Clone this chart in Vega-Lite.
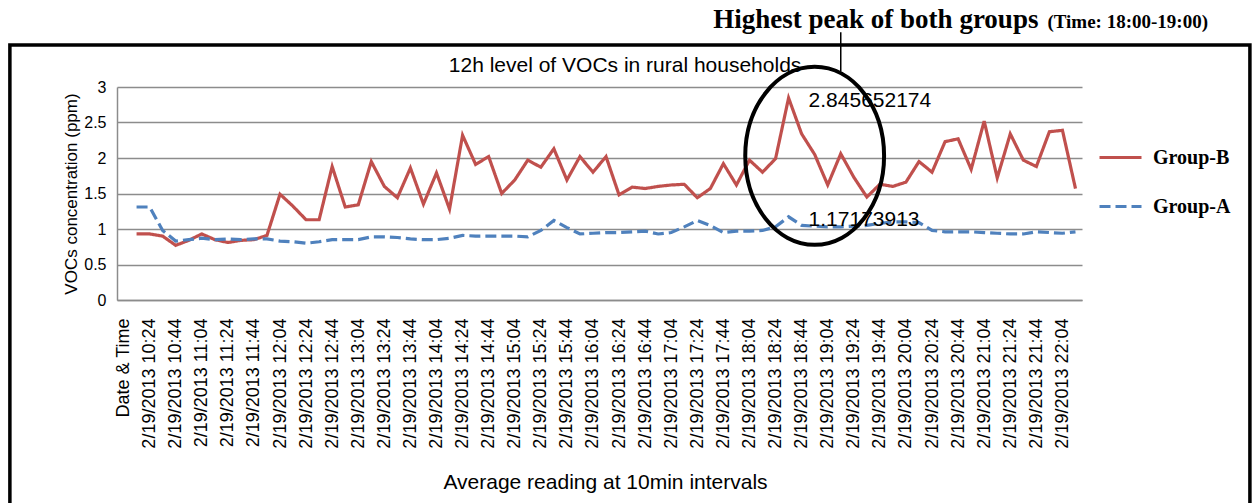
{
  "$schema": "https://vega.github.io/schema/vega-lite/v6.json",
  "width": 965,
  "height": 213,
  "autosize": {"type": "none"},
  "padding": {"left": 117, "top": 87, "right": 176, "bottom": 203},
  "background": "white",
  "config": {
    "view": {"stroke": null},
    "font": "Liberation Sans"
  },
  "resolve": {"scale": {"x": "independent", "y": "independent"}, "axis": {"x": "independent", "y": "independent"}},
  "layer": [
    {
      "data": {"values": [{"fx0": -0.111, "fx1": 1.174, "fy0": -1.3, "fy1": 1.197}]},
      "mark": {"type": "rect", "filled": false, "stroke": "black", "strokeWidth": 3.5, "clip": false},
      "encoding": {
        "x": {"field": "fx0", "type": "quantitative", "scale": {"domain": [0, 1], "nice": false, "zero": false}, "axis": null},
        "x2": {"field": "fx1"},
        "y": {"field": "fy0", "type": "quantitative", "scale": {"domain": [0, 1], "nice": false, "zero": false}, "axis": null},
        "y2": {"field": "fy1"}
      }
    },
    {
      "encoding": {
        "x": {
          "field": "t", "type": "ordinal",
          "scale": {"type": "point", "padding": 0.5, "domain": ["Date & Time",
            "2/19/2013 10:14","2/19/2013 10:24","2/19/2013 10:34","2/19/2013 10:44","2/19/2013 10:54",
            "2/19/2013 11:04","2/19/2013 11:14","2/19/2013 11:24","2/19/2013 11:34","2/19/2013 11:44","2/19/2013 11:54",
            "2/19/2013 12:04","2/19/2013 12:14","2/19/2013 12:24","2/19/2013 12:34","2/19/2013 12:44","2/19/2013 12:54",
            "2/19/2013 13:04","2/19/2013 13:14","2/19/2013 13:24","2/19/2013 13:34","2/19/2013 13:44","2/19/2013 13:54",
            "2/19/2013 14:04","2/19/2013 14:14","2/19/2013 14:24","2/19/2013 14:34","2/19/2013 14:44","2/19/2013 14:54",
            "2/19/2013 15:04","2/19/2013 15:14","2/19/2013 15:24","2/19/2013 15:34","2/19/2013 15:44","2/19/2013 15:54",
            "2/19/2013 16:04","2/19/2013 16:14","2/19/2013 16:24","2/19/2013 16:34","2/19/2013 16:44","2/19/2013 16:54",
            "2/19/2013 17:04","2/19/2013 17:14","2/19/2013 17:24","2/19/2013 17:34","2/19/2013 17:44","2/19/2013 17:54",
            "2/19/2013 18:04","2/19/2013 18:14","2/19/2013 18:24","2/19/2013 18:34","2/19/2013 18:44","2/19/2013 18:54",
            "2/19/2013 19:04","2/19/2013 19:14","2/19/2013 19:24","2/19/2013 19:34","2/19/2013 19:44","2/19/2013 19:54",
            "2/19/2013 20:04","2/19/2013 20:14","2/19/2013 20:24","2/19/2013 20:34","2/19/2013 20:44","2/19/2013 20:54",
            "2/19/2013 21:04","2/19/2013 21:14","2/19/2013 21:24","2/19/2013 21:34","2/19/2013 21:44","2/19/2013 21:54",
            "2/19/2013 22:04","2/19/2013 22:14"]},
          "axis": {
            "title": "Average reading at 10min intervals",
            "titleFont": "Liberation Sans", "titleFontSize": 21, "titleFontWeight": "normal", "titleColor": "black",
            "titlePadding": 23, "titleX": 488,
            "labelAngle": -90, "labelAlign": "right", "labelBaseline": "middle",
            "labelFont": "Liberation Sans", "labelFontSize": 18, "labelColor": "black", "labelPadding": 18,
            "labelOverlap": false, "labelFlush": false,
            "ticks": false, "grid": false,
            "domainColor": "#8c8c8c", "domainWidth": 1.5,
            "values": ["Date & Time","2/19/2013 10:24","2/19/2013 10:44","2/19/2013 11:04","2/19/2013 11:24","2/19/2013 11:44",
              "2/19/2013 12:04","2/19/2013 12:24","2/19/2013 12:44","2/19/2013 13:04","2/19/2013 13:24","2/19/2013 13:44",
              "2/19/2013 14:04","2/19/2013 14:24","2/19/2013 14:44","2/19/2013 15:04","2/19/2013 15:24","2/19/2013 15:44",
              "2/19/2013 16:04","2/19/2013 16:24","2/19/2013 16:44","2/19/2013 17:04","2/19/2013 17:24","2/19/2013 17:44",
              "2/19/2013 18:04","2/19/2013 18:24","2/19/2013 18:44","2/19/2013 19:04","2/19/2013 19:24","2/19/2013 19:44",
              "2/19/2013 20:04","2/19/2013 20:24","2/19/2013 20:44","2/19/2013 21:04","2/19/2013 21:24","2/19/2013 21:44",
              "2/19/2013 22:04"]
          }
        },
        "y": {
          "field": "value", "type": "quantitative",
          "scale": {"domain": [0, 3], "nice": false, "zero": true},
          "axis": {
            "title": "VOCs concentration  (ppm)",
            "titleFont": "Liberation Sans", "titleFontSize": 17, "titleFontWeight": "normal", "titleColor": "black",
            "titlePadding": 3,
            "values": [0, 0.5, 1, 1.5, 2, 2.5, 3],
            "tickCount": 7,
            "labelOverlap": false,
            "format": "~g",
            "labelFont": "Liberation Sans", "labelFontSize": 16, "labelColor": "black", "labelPadding": 11,
            "ticks": false,
            "grid": true, "gridColor": "#8c8c8c", "gridWidth": 1.5,
            "domainColor": "#8c8c8c", "domainWidth": 1.5
          }
        }
      },
      "layer": [
        {
          "data": {"name": "vocs", "values": [
            {"t": "2/19/2013 10:14", "Group-B": 0.93, "Group-A": 1.31},
            {"t": "2/19/2013 10:24", "Group-B": 0.93, "Group-A": 1.31},
            {"t": "2/19/2013 10:34", "Group-B": 0.9, "Group-A": 0.98},
            {"t": "2/19/2013 10:44", "Group-B": 0.77, "Group-A": 0.83},
            {"t": "2/19/2013 10:54", "Group-B": 0.84, "Group-A": 0.85},
            {"t": "2/19/2013 11:04", "Group-B": 0.93, "Group-A": 0.87},
            {"t": "2/19/2013 11:14", "Group-B": 0.85, "Group-A": 0.85},
            {"t": "2/19/2013 11:24", "Group-B": 0.81, "Group-A": 0.86},
            {"t": "2/19/2013 11:34", "Group-B": 0.84, "Group-A": 0.85},
            {"t": "2/19/2013 11:44", "Group-B": 0.85, "Group-A": 0.86},
            {"t": "2/19/2013 11:54", "Group-B": 0.91, "Group-A": 0.86},
            {"t": "2/19/2013 12:04", "Group-B": 1.49, "Group-A": 0.83},
            {"t": "2/19/2013 12:14", "Group-B": 1.32, "Group-A": 0.82},
            {"t": "2/19/2013 12:24", "Group-B": 1.13, "Group-A": 0.8},
            {"t": "2/19/2013 12:34", "Group-B": 1.13, "Group-A": 0.82},
            {"t": "2/19/2013 12:44", "Group-B": 1.88, "Group-A": 0.85},
            {"t": "2/19/2013 12:54", "Group-B": 1.31, "Group-A": 0.85},
            {"t": "2/19/2013 13:04", "Group-B": 1.34, "Group-A": 0.85},
            {"t": "2/19/2013 13:14", "Group-B": 1.95, "Group-A": 0.89},
            {"t": "2/19/2013 13:24", "Group-B": 1.6, "Group-A": 0.89},
            {"t": "2/19/2013 13:34", "Group-B": 1.44, "Group-A": 0.88},
            {"t": "2/19/2013 13:44", "Group-B": 1.86, "Group-A": 0.86},
            {"t": "2/19/2013 13:54", "Group-B": 1.35, "Group-A": 0.85},
            {"t": "2/19/2013 14:04", "Group-B": 1.79, "Group-A": 0.85},
            {"t": "2/19/2013 14:14", "Group-B": 1.28, "Group-A": 0.87},
            {"t": "2/19/2013 14:24", "Group-B": 2.32, "Group-A": 0.91},
            {"t": "2/19/2013 14:34", "Group-B": 1.91, "Group-A": 0.9},
            {"t": "2/19/2013 14:44", "Group-B": 2.02, "Group-A": 0.9},
            {"t": "2/19/2013 14:54", "Group-B": 1.5, "Group-A": 0.9},
            {"t": "2/19/2013 15:04", "Group-B": 1.69, "Group-A": 0.9},
            {"t": "2/19/2013 15:14", "Group-B": 1.97, "Group-A": 0.89},
            {"t": "2/19/2013 15:24", "Group-B": 1.87, "Group-A": 0.98},
            {"t": "2/19/2013 15:34", "Group-B": 2.13, "Group-A": 1.12},
            {"t": "2/19/2013 15:44", "Group-B": 1.69, "Group-A": 1.02},
            {"t": "2/19/2013 15:54", "Group-B": 2.02, "Group-A": 0.93},
            {"t": "2/19/2013 16:04", "Group-B": 1.8, "Group-A": 0.94},
            {"t": "2/19/2013 16:14", "Group-B": 2.02, "Group-A": 0.95},
            {"t": "2/19/2013 16:24", "Group-B": 1.48, "Group-A": 0.95},
            {"t": "2/19/2013 16:34", "Group-B": 1.59, "Group-A": 0.96},
            {"t": "2/19/2013 16:44", "Group-B": 1.57, "Group-A": 0.97},
            {"t": "2/19/2013 16:54", "Group-B": 1.6, "Group-A": 0.93},
            {"t": "2/19/2013 17:04", "Group-B": 1.62, "Group-A": 0.95},
            {"t": "2/19/2013 17:14", "Group-B": 1.63, "Group-A": 1.03},
            {"t": "2/19/2013 17:24", "Group-B": 1.44, "Group-A": 1.12},
            {"t": "2/19/2013 17:34", "Group-B": 1.57, "Group-A": 1.05},
            {"t": "2/19/2013 17:44", "Group-B": 1.92, "Group-A": 0.95},
            {"t": "2/19/2013 17:54", "Group-B": 1.62, "Group-A": 0.97},
            {"t": "2/19/2013 18:04", "Group-B": 1.97, "Group-A": 0.97},
            {"t": "2/19/2013 18:14", "Group-B": 1.8, "Group-A": 0.98},
            {"t": "2/19/2013 18:24", "Group-B": 1.99, "Group-A": 1.03},
            {"t": "2/19/2013 18:34", "Group-B": 2.845652174, "Group-A": 1.17173913},
            {"t": "2/19/2013 18:44", "Group-B": 2.34, "Group-A": 1.05},
            {"t": "2/19/2013 18:54", "Group-B": 2.05, "Group-A": 1.04},
            {"t": "2/19/2013 19:04", "Group-B": 1.62, "Group-A": 1.03},
            {"t": "2/19/2013 19:14", "Group-B": 2.06, "Group-A": 1.03},
            {"t": "2/19/2013 19:24", "Group-B": 1.73, "Group-A": 1.04},
            {"t": "2/19/2013 19:34", "Group-B": 1.45, "Group-A": 1.05},
            {"t": "2/19/2013 19:44", "Group-B": 1.63, "Group-A": 1.08},
            {"t": "2/19/2013 19:54", "Group-B": 1.6, "Group-A": 1.1},
            {"t": "2/19/2013 20:04", "Group-B": 1.66, "Group-A": 1.1},
            {"t": "2/19/2013 20:14", "Group-B": 1.95, "Group-A": 1.09},
            {"t": "2/19/2013 20:24", "Group-B": 1.8, "Group-A": 0.98},
            {"t": "2/19/2013 20:34", "Group-B": 2.23, "Group-A": 0.96},
            {"t": "2/19/2013 20:44", "Group-B": 2.27, "Group-A": 0.96},
            {"t": "2/19/2013 20:54", "Group-B": 1.84, "Group-A": 0.96},
            {"t": "2/19/2013 21:04", "Group-B": 2.52, "Group-A": 0.95},
            {"t": "2/19/2013 21:14", "Group-B": 1.72, "Group-A": 0.94},
            {"t": "2/19/2013 21:24", "Group-B": 2.34, "Group-A": 0.93},
            {"t": "2/19/2013 21:34", "Group-B": 1.97, "Group-A": 0.93},
            {"t": "2/19/2013 21:44", "Group-B": 1.88, "Group-A": 0.96},
            {"t": "2/19/2013 21:54", "Group-B": 2.37, "Group-A": 0.95},
            {"t": "2/19/2013 22:04", "Group-B": 2.39, "Group-A": 0.94},
            {"t": "2/19/2013 22:14", "Group-B": 1.57, "Group-A": 0.96}
          ]},
          "transform": [{"fold": ["Group-B", "Group-A"], "as": ["group", "value"]}],
          "mark": {"type": "line", "strokeWidth": 3.2, "clip": false},
          "encoding": {
            "color": {
              "field": "group", "type": "nominal",
              "scale": {"domain": ["Group-B", "Group-A"], "range": ["#C0504D", "#4F81BD"]},
              "legend": {
                "title": null, "orient": "none", "legendX": 981, "legendY": 48,
                "labelFont": "Liberation Serif", "labelFontWeight": "bold", "labelFontSize": 20, "labelColor": "black",
                "symbolType": "stroke", "symbolSize": 1764, "symbolStrokeWidth": 3,
                "labelOffset": 10, "rowPadding": 16
              }
            },
            "strokeDash": {
              "field": "group", "type": "nominal",
              "scale": {"domain": ["Group-B", "Group-A"], "range": [[1, 0], [11, 5]]},
              "legend": {
                "title": null, "orient": "none", "legendX": 981, "legendY": 48,
                "labelFont": "Liberation Serif", "labelFontWeight": "bold", "labelFontSize": 20, "labelColor": "black",
                "symbolType": "stroke", "symbolSize": 1764, "symbolStrokeWidth": 3,
                "labelOffset": 10, "rowPadding": 16
              }
            }
          }
        },
        {
          "data": {"name": "vocs"},
          "transform": [
            {"fold": ["Group-B", "Group-A"], "as": ["group", "value"]},
            {"filter": "datum.t == '2/19/2013 18:34'"}
          ],
          "mark": {"type": "text", "align": "left", "baseline": "middle", "dx": 20, "dy": 3, "fontSize": 21, "font": "Liberation Sans", "color": "black", "clip": false},
          "encoding": {
            "text": {"field": "value", "type": "nominal"}
          }
        },
        {
          "data": {"values": [{"t": "2/19/2013 18:54", "value": 2.03}]},
          "mark": {"type": "point", "shape": "M-0.78,0A0.78,1 0 1,0 0.78,0A0.78,1 0 1,0 -0.78,0Z", "size": 31684, "filled": false, "stroke": "black", "strokeWidth": 4, "opacity": 1, "clip": false},
          "encoding": {}
        },
        {
          "data": {"values": [{"t": "2/19/2013 19:14", "value": 3.77, "value2": 3.22}]},
          "mark": {"type": "rule", "stroke": "black", "strokeWidth": 1.5, "clip": false},
          "encoding": {
            "y2": {"field": "value2"}
          }
        },
        {
          "data": {"values": [{"t": "2/19/2013 16:24", "value": 3.21, "label": "12h level of VOCs  in rural households"}]},
          "mark": {"type": "text", "align": "center", "baseline": "alphabetic", "dx": 6, "fontSize": 21, "font": "Liberation Sans", "color": "black", "clip": false},
          "encoding": {
            "text": {"field": "label", "type": "nominal"}
          }
        },
        {
          "data": {"values": [{"t": "2/19/2013 17:34", "value": 3.826, "label": "Highest peak of both groups"}]},
          "mark": {"type": "text", "align": "left", "baseline": "alphabetic", "dx": 3, "fontSize": 27, "font": "Liberation Serif", "fontWeight": "bold", "color": "black", "clip": false},
          "encoding": {
            "text": {"field": "label", "type": "nominal"}
          }
        },
        {
          "data": {"values": [{"t": "2/19/2013 21:54", "value": 3.826, "label": "(Time: 18:00-19:00)"}]},
          "mark": {"type": "text", "align": "left", "baseline": "alphabetic", "dx": -2, "fontSize": 19, "font": "Liberation Serif", "fontWeight": "bold", "color": "black", "clip": false},
          "encoding": {
            "text": {"field": "label", "type": "nominal"}
          }
        }
      ]
    }
  ]
}
